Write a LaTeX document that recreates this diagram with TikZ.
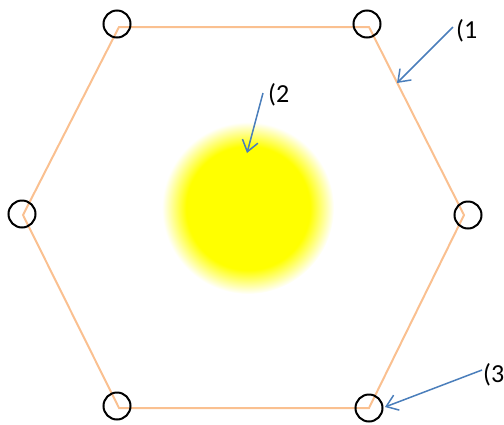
\documentclass[tikz,border=0pt]{standalone}
\usepackage{fontspec}
\setmainfont{Carlito}
\usetikzlibrary{arrows.meta}
\definecolor{hexorange}{RGB}{250,192,144}
\definecolor{arrowblue}{RGB}{74,126,187}
\pgfdeclareradialshading{glow}{\pgfpoint{0bp}{0bp}}{color(0bp)=(yellow); color(18bp)=(yellow); color(25bp)=(white); color(50bp)=(white)}
\tikzset{
  hexline/.style={draw=hexorange, line width=2pt, line join=miter},
  vertexring/.style={circle, draw=black, line width=2pt, minimum size=27pt, inner sep=0pt},
  callout/.style={draw=arrowblue, line width=1.5pt, -{Straight Barb[length=11pt,width=16pt,line width=1.5pt]}},
  tag/.style={font=\fontsize{26}{30}\selectfont, anchor=west, inner sep=0pt}
}
\begin{document}
\begin{tikzpicture}[x=1pt,y=-1pt]
\useasboundingbox (0,0) rectangle (504,424);
% glow
\shade[shading=glow] (248,208) circle (86);
% hexagon
\coordinate (v1) at (119,27);
\coordinate (v2) at (369,27);
\coordinate (v3) at (464,215);
\coordinate (v4) at (369,408);
\coordinate (v5) at (119,408);
\coordinate (v6) at (23,215);
\draw[hexline] (v1) -- (v2) -- (v3) -- (v4) -- (v5) -- (v6) -- cycle;
% rings
\node[vertexring] (c1) at (117,24) {};
\node[vertexring] (c2) at (367,24) {};
\node[vertexring] (c3) at (468,215) {};
\node[vertexring] (c4) at (369,408) {};
\node[vertexring] (c5) at (117,406) {};
\node[vertexring] (c6) at (22,214) {};
% labels
\node[tag] (l1) at (456,31) {(1};
\node[tag] (l2) at (268,95) {(2};
\node[tag] (l3) at (483,375) {(3};
\coordinate (s1) at (453,27);
\coordinate (t1) at (397,83);
\coordinate (s2) at (263,93);
\coordinate (t2) at (247,153);
\coordinate (s3) at (482,370);
\coordinate (t3) at (385,407);
\draw[callout] (s1) -- (t1);
\draw[callout] (s2) -- (t2);
\draw[callout] (s3) -- (t3);
\end{tikzpicture}
\end{document}
